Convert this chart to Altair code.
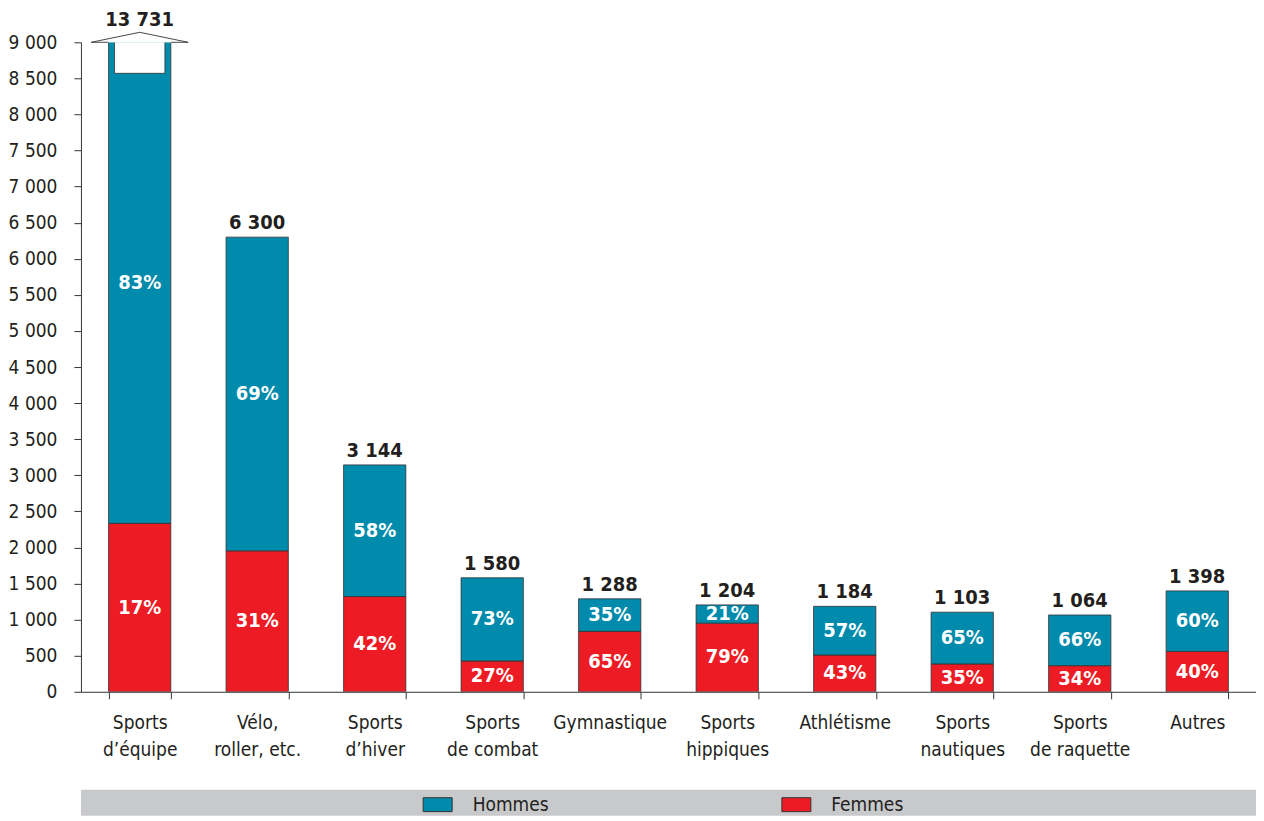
import altair as alt
import pandas as pd

categories = ["Sports d’équipe", "Vélo, roller, etc.", "Sports d’hiver", "Sports de combat",
              "Gymnastique", "Sports hippiques", "Athlétisme", "Sports nautiques",
              "Sports de raquette", "Autres"]
totals = [13731, 6300, 3144, 1580, 1288, 1204, 1184, 1103, 1064, 1398]
femmes = [2334, 1953, 1320, 427, 837, 951, 509, 386, 362, 559]
hommes = [11397, 4347, 1824, 1153, 451, 253, 675, 717, 702, 839]
pct_femmes = [17, 31, 42, 27, 65, 79, 43, 35, 34, 40]
pct_hommes = [83, 69, 58, 73, 35, 21, 57, 65, 66, 60]
y_ticks = [0, 500, 1000, 1500, 2000, 2500, 3000, 3500, 4000, 4500,
           5000, 5500, 6000, 6500, 7000, 7500, 8000, 8500, 9000]

YMAX = 9000
TEAL = "#008aab"
RED = "#ed1c24"
DARK = "#231f20"
FONT = "Liberation Sans Narrow, DejaVu Sans Condensed, Liberation Sans, sans-serif"
W, H = 1176, 650

rows = []
for i, c in enumerate(categories):
    rows.append({"cat": c, "sexe": "Femmes", "ord": 0, "value": femmes[i], "pct": f"{pct_femmes[i]}%"})
    rows.append({"cat": c, "sexe": "Hommes", "ord": 1, "value": hommes[i], "pct": f"{pct_hommes[i]}%"})
long_df = pd.DataFrame(rows)

tot_df = pd.DataFrame({
    "cat": categories,
    "total": totals,
    "label": [f"{v:,}".replace(",", " ") for v in totals],
})

xenc = alt.X("cat:N", sort=categories,
             scale=alt.Scale(paddingInner=0.47, paddingOuter=0.235),
             axis=alt.Axis(title=None, labelAngle=0, tickBand="extent", tickSize=7,
                           labelPadding=15, domainColor="#333", tickColor="#333",
                           labelFontSize=19, labelColor=DARK, labelFont=FONT,
                           labelLineHeight=27, labelBaseline="top",
                           labelExpr="indexof(datum.label, ' ') > 0 ? [substring(datum.label, 0, indexof(datum.label, ' ')), substring(datum.label, indexof(datum.label, ' ') + 1)] : datum.label"))
yscale = alt.Scale(domain=[0, YMAX], nice=False)
yaxis = alt.Axis(title=None, values=y_ticks, grid=False, labelOverlap=False,
                 tickSize=7, labelPadding=17, domainColor="#333", tickColor="#333",
                 labelFontSize=19, labelColor=DARK, labelFont=FONT,
                 labelExpr="replace(format(datum.value, ','), ',', ' ')")

base = alt.Chart(long_df).transform_stack(
    stack="value", groupby=["cat"], as_=["y0", "y1"],
    sort=[alt.SortField("ord", order="ascending")]
).transform_calculate(
    mid=f"(datum.y0 + min(datum.y1, {YMAX})) / 2"
)

bars = base.mark_bar(clip=True, stroke="#333", strokeWidth=0.8).encode(
    x=xenc,
    y=alt.Y("y0:Q", scale=yscale, axis=yaxis),
    y2="y1:Q",
    color=alt.Color("sexe:N",
                    scale=alt.Scale(domain=["Hommes", "Femmes"], range=[TEAL, RED]),
                    legend=alt.Legend(title=None, orient="none", legendX=342, legendY=748,
                                      direction="horizontal",
                                      symbolType="M-1,-0.48H1V0.48H-1Z", symbolSize=841,
                                      symbolStrokeColor="#333", symbolStrokeWidth=1,
                                      symbolOpacity=1, labelFontSize=19, labelFont=FONT,
                                      labelColor=DARK, labelOffset=20, columnPadding=230,
                                      padding=0)),
)

pct_text = base.mark_text(color="white", fontWeight="bold", fontSize=20, font=FONT).encode(
    x=xenc, y=alt.Y("mid:Q", scale=yscale, axis=yaxis), text="pct:N"
)

big = alt.Chart(tot_df).transform_filter(f"datum.total > {YMAX}")

notch = big.mark_bar(clip=True, fill="white", stroke="#333", strokeWidth=0.8,
                     width=alt.RelativeBandSize(0.81)).encode(
    x=xenc, y=alt.YDatum(8570, scale=yscale, axis=yaxis), y2=alt.datum(9300)
)

arrow = big.mark_point(shape="M-1,0L0,-0.206L1,0L0.65,0M-0.65,0L-1,0", filled=True,
                       fill="white", stroke="#333", strokeWidth=0.9, size=9409,
                       opacity=1).encode(
    x=xenc, y=alt.YDatum(YMAX, scale=yscale, axis=yaxis)
)

big_label = big.mark_text(fontWeight="bold", fontSize=20, font=FONT, color=DARK,
                          baseline="bottom", dy=-12).encode(
    x=xenc, y=alt.YDatum(YMAX, scale=yscale, axis=yaxis), text="label:N"
)

tot_label = alt.Chart(tot_df).transform_filter(f"datum.total <= {YMAX}").mark_text(
    fontWeight="bold", fontSize=20, font=FONT, color=DARK, baseline="bottom", dy=-4
).encode(x=xenc, y=alt.Y("total:Q", scale=yscale, axis=yaxis), text="label:N")

band = alt.Chart(pd.DataFrame({"a": [0]})).mark_rect(color="#c8c9cb").encode(
    x=alt.value(0), x2=alt.value(W), y=alt.value(748), y2=alt.value(774)
)

chart = alt.layer(band, bars, notch, arrow, pct_text, big_label, tot_label).properties(
    width=W, height=H, padding={"left": 0, "top": 2, "right": 0, "bottom": 0}
).configure_view(stroke=None).configure_axis(labelFont=FONT)

chart.save("out.html", embed_options={"renderer": "svg", "actions": False})
